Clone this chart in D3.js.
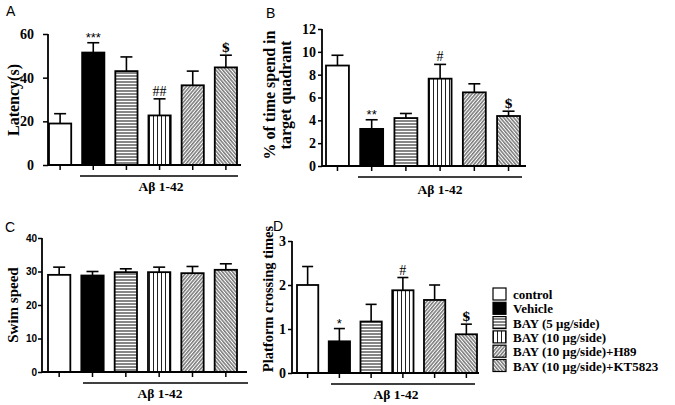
<!DOCTYPE html>
<html><head><meta charset="utf-8">
<script src="https://cdn.jsdelivr.net/npm/d3@7"></script>
<style>body{margin:0;background:#fff}svg{display:block}</style>
</head><body>
<svg id="c" width="675" height="405"></svg>
<script>
const groups = ["control","Vehicle","BAY (5 \u03bcg/side)","BAY (10 \u03bcg/side)","BAY (10 \u03bcg/side)+H89","BAY (10 \u03bcg/side)+KT5823"];
const patterns = ["white","black","hlines","vlines","diagR","diagL"];

const latencyMean = [19, 51.5, 43, 22.7, 36.5, 44.7];
const latencyErr  = [4.5, 4.5, 6.5, 7.6, 6.5, 5.6];
const latencyMarks = ["", "***", "", "##", "", "$"];
const latencyTicks = [0, 20, 40, 60];

const quadMean = [8.8, 3.25, 4.2, 7.65, 6.45, 4.38];
const quadErr  = [0.9, 0.8, 0.4, 1.25, 0.75, 0.42];
const quadMarks = ["", "**", "", "#", "", "$"];
const quadTicks = [0, 2, 4, 6, 8, 10, 12];

const speedMean = [29, 28.8, 29.8, 29.8, 29.5, 30.5];
const speedErr  = [2.3, 1.2, 1.0, 1.5, 2.0, 1.8];
const speedTicks = [0, 10, 20, 30, 40];

const crossMean = [2.0, 0.72, 1.17, 1.88, 1.66, 0.88];
const crossErr  = [0.42, 0.29, 0.39, 0.29, 0.34, 0.23];
const crossMarks = ["", "*", "", "#", "", "$"];
const crossTicks = [0, 1, 2, 3];

const svg = d3.select("#c");
const defs = svg.append("defs");
function pat(id, w, h, draw, rot){
  const p = defs.append("pattern").attr("id", id).attr("patternUnits","userSpaceOnUse")
    .attr("width", w).attr("height", h);
  if (rot) p.attr("patternTransform", "rotate(" + rot + ")");
  p.append("rect").attr("width", w).attr("height", h).attr("fill", "#fff");
  draw(p);
}
pat("hlines", 6, 3, p => p.append("line").attr("x1",0).attr("x2",6).attr("y1",1).attr("y2",1).attr("stroke","#222").attr("stroke-width",1.1));
pat("vlines", 4, 6, p => p.append("line").attr("x1",1.5).attr("x2",1.5).attr("y1",0).attr("y2",6).attr("stroke","#222").attr("stroke-width",1));
pat("diagR", 2.6, 6, p => p.append("line").attr("x1",0.8).attr("x2",0.8).attr("y1",0).attr("y2",6).attr("stroke","#333").attr("stroke-width",1), 40);
pat("diagL", 2.6, 6, p => p.append("line").attr("x1",0.8).attr("x2",0.8).attr("y1",0).attr("y2",6).attr("stroke","#333").attr("stroke-width",1), -40);
function fillOf(k){ return k === "white" ? "#fff" : k === "black" ? "#000" : "url(#" + k + ")"; }

const serif = "'Liberation Serif','Times New Roman',serif";
const sans = "'Liberation Sans',Arial,sans-serif";

function panel(o){
  const g = svg.append("g");
  const y = d3.scaleLinear().domain([0, o.ticks[o.ticks.length-1]]).range([o.y0, o.y1]);
  const x = d3.scaleBand().domain(groups).range([o.bx0, o.bx1]).paddingInner(o.pad).paddingOuter(0);
  g.selectAll("rect.bar").data(o.mean).join("rect")
    .attr("x", (d,i) => x(groups[i])).attr("width", x.bandwidth())
    .attr("y", d => y(d)).attr("height", d => y(0) - y(d))
    .attr("fill", (d,i) => fillOf(patterns[i])).attr("stroke","#000").attr("stroke-width",1.8);
  const cap = o.cap;
  o.mean.forEach((m,i) => {
    const cx = x(groups[i]) + x.bandwidth()/2;
    const top = y(m+o.err[i]);
    g.append("line").attr("x1",cx).attr("x2",cx).attr("y1",y(m)).attr("y2",top).attr("stroke","#000").attr("stroke-width",1.6);
    g.append("line").attr("x1",cx-cap/2).attr("x2",cx+cap/2).attr("y1",top).attr("y2",top).attr("stroke","#000").attr("stroke-width",1.6);
    if (o.marks && o.marks[i]) {
      const mk = o.marks[i];
      const star = mk.indexOf("*") >= 0;
      const dollar = mk === "$";
      g.append("text").attr("x", cx).attr("y", top - (star ? 1 : 3))
        .attr("text-anchor","middle")
        .attr("font-family", star ? sans : (dollar ? "'DejaVu Serif',serif" : serif))
        .attr("font-weight", dollar ? "bold" : "normal")
        .attr("font-size", dollar ? 12.5 : (star ? 13 : 14)).attr("fill", "#000").text(mk);
    }
  });
  const ya = d3.axisLeft(y).tickValues(o.ticks).tickFormat(d3.format("d")).tickSize(o.tickLen).tickPadding(o.tickPad);
  const yg = g.append("g").attr("transform","translate(" + o.ax + ",0)").call(ya);
  yg.select(".domain").attr("stroke-width",1.8).attr("d", "M0," + o.y0 + "V" + o.y1);
  yg.selectAll(".tick line").attr("stroke-width",1.5);
  yg.selectAll("text").attr("font-family", o.tickFont).attr("font-weight","bold").attr("font-size", o.tickSize).attr("fill","#000");
  g.append("line").attr("x1", o.ax).attr("x2", o.axEnd).attr("y1", o.y0).attr("y2", o.y0).attr("stroke","#000").attr("stroke-width",1.8);
  groups.forEach(gr => {
    const cx = x(gr) + x.bandwidth()/2;
    g.append("line").attr("x1",cx).attr("x2",cx).attr("y1",o.y0).attr("y2",o.y0+5).attr("stroke","#000").attr("stroke-width",1.5);
  });
  g.append("line").attr("x1", o.ab0).attr("x2", o.ab1).attr("y1", o.abY).attr("y2", o.abY).attr("stroke","#000").attr("stroke-width",1.5);
  g.append("text").attr("x", o.abX).attr("y", o.abTextY).attr("text-anchor","middle")
    .attr("font-family", serif).attr("font-weight","bold").attr("font-size",13.5).text("A\u03b2 1-42");
  o.title.forEach((t,k) => {
    g.append("text").attr("transform","translate(" + o.tx[k] + "," + o.ty + ") rotate(-90)")
      .attr("text-anchor","middle").attr("font-family", serif).attr("font-weight","bold")
      .attr("font-size", o.titleSize).text(t);
  });
  g.append("text").attr("x", o.lx).attr("y", o.ly).attr("font-family", sans).attr("font-size", 14).text(o.letter);
}

panel({letter:"A", lx:6, ly:16, mean:latencyMean, err:latencyErr, marks:latencyMarks, ticks:latencyTicks,
  y0:165, y1:34, bx0:49, bx1:237, pad:0.33, cap:12, ax:48, axEnd:241, tickFont:serif, tickSize:14, tickLen:5, tickPad:9,
  ab0:80, ab1:238, abY:176, abX:161, abTextY:191, title:["Latency(s)"], tx:[19], ty:100, titleSize:16});

panel({letter:"B", lx:266, ly:18, mean:quadMean, err:quadErr, marks:quadMarks, ticks:quadTicks,
  y0:166, y1:29, bx0:326, bx1:520, pad:0.33, cap:12, ax:322, axEnd:526, tickFont:serif, tickSize:14, tickLen:4, tickPad:2,
  ab0:358, ab1:522, abY:177, abX:440, abTextY:194, title:["% of time spend in","target quadrant"], tx:[275,291], ty:95, titleSize:16});

panel({letter:"C", lx:5, ly:232, mean:speedMean, err:speedErr, marks:null, ticks:speedTicks,
  y0:372, y1:238, bx0:48, bx1:237, pad:0.33, cap:12, ax:42, axEnd:247, tickFont:sans, tickSize:10, tickLen:4, tickPad:1,
  ab0:83, ab1:248, abY:383, abX:160, abTextY:398, title:["Swim speed"], tx:[18], ty:305, titleSize:15});

panel({letter:"D", lx:273, ly:231, mean:crossMean, err:crossErr, marks:crossMarks, ticks:crossTicks,
  y0:373, y1:241, bx0:297, bx1:477, pad:0.33, cap:11, ax:292, axEnd:479, tickFont:serif, tickSize:14, tickLen:4, tickPad:2,
  ab0:331, ab1:475, abY:384, abX:396, abTextY:399, title:["Platform crossing times"], tx:[273], ty:299, titleSize:14.5});

const leg = svg.append("g");
groups.forEach((gname, i) => {
  const yy = 288 + i * 14.3;
  leg.append("rect").attr("x", 493).attr("y", yy).attr("width", 13).attr("height", 12)
    .attr("fill", fillOf(patterns[i])).attr("stroke","#000").attr("stroke-width",1.2);
  leg.append("text").attr("x", 513).attr("y", yy + 11).attr("font-family", serif).attr("font-weight","bold")
    .attr("font-size", 13).text(gname);
});
</script>
</body></html>
